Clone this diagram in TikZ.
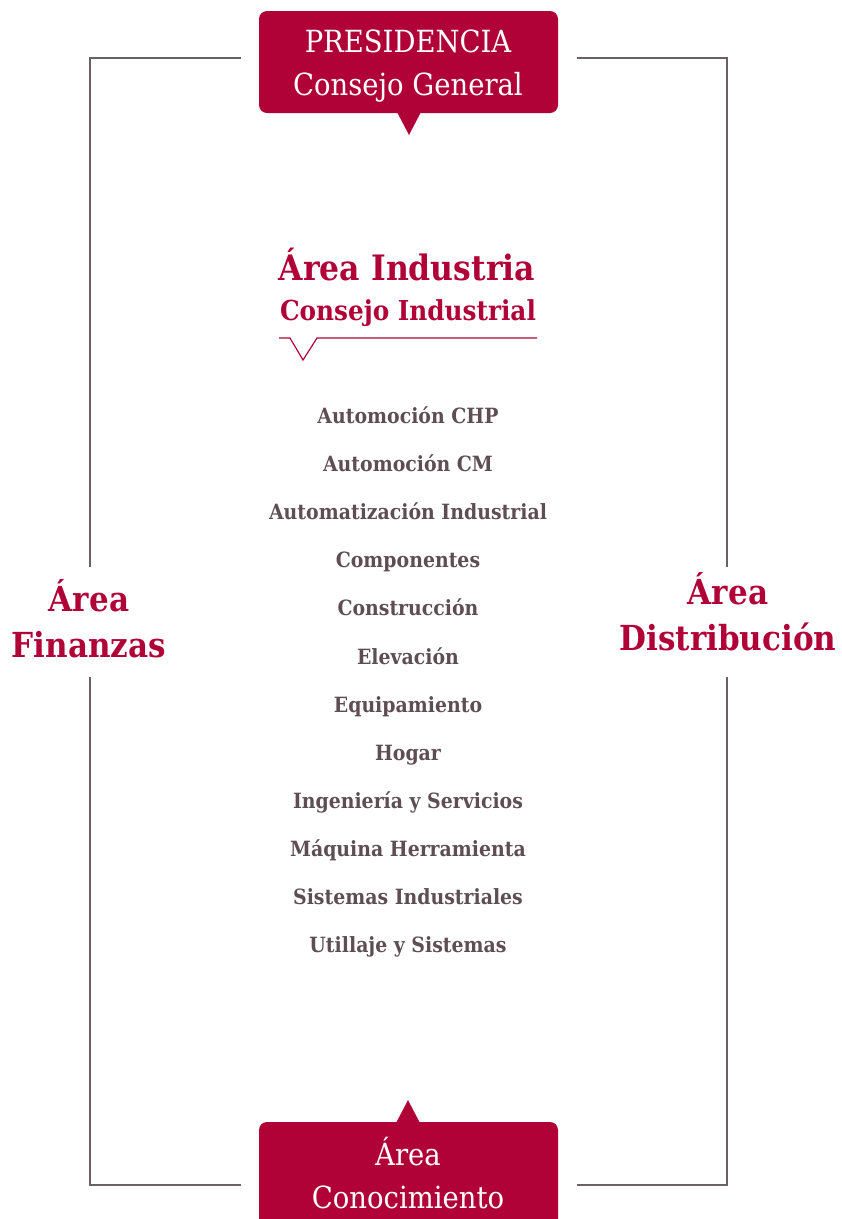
\documentclass[tikz,border=0pt]{standalone}
\usepackage{fontspec}
\setmainfont{DejaVu Serif Condensed}
\definecolor{crimson}{RGB}{176,2,54}
\definecolor{greytext}{RGB}{94,78,84}
\definecolor{greyline}{RGB}{108,96,100}
\tikzset{
  frame/.style={draw=greyline, line width=2.6pt},
  redbox/.style={fill=crimson, rounded corners=8pt},
  boxtext/.style={text=white, font=\fontsize{30.5}{43}\selectfont, align=center, inner sep=0pt, anchor=base},
  sidelabel/.style={text=crimson, font=\bfseries\fontsize{34.5}{46}\selectfont, align=center, inner sep=0pt, anchor=base},
  item/.style={text=greytext, font=\bfseries\fontsize{21}{24}\selectfont, inner sep=0pt, anchor=base},
}
\begin{document}
\begin{tikzpicture}[x=1pt,y=-1pt]
\useasboundingbox (0,0) rectangle (842,1219);
% top box
\fill[redbox] (259,11) rectangle (558,113);
\fill[crimson] (397,112) -- (421,112) -- (409,135) -- cycle;
\node[boxtext] (pres) at (408,95) {PRESIDENCIA\\Consejo General};
% bottom box
\fill[redbox] (259,1122) rectangle (558,1240);
\fill[crimson] (396,1123) -- (420,1123) -- (408,1100) -- cycle;
\node[boxtext] (cono) at (408,1208) {Área\\Conocimiento};
% side labels
\node[sidelabel] (fin) at (89,657) {Área\\Finanzas};
\node[sidelabel] (dist) at (728,650) {Área\\Distribución};
% frame coordinates
\coordinate (tl) at (90,58);
\coordinate (tr) at (727,58);
\coordinate (bl) at (90,1185);
\coordinate (br) at (727,1185);
\coordinate (tla) at (241,58);
\coordinate (tra) at (577,58);
\coordinate (bla) at (241,1185);
\coordinate (bra) at (577,1185);
\coordinate (lu) at (90,567);
\coordinate (ld) at (90,677);
\coordinate (ru) at (727,567);
\coordinate (rd) at (727,677);
\draw[frame] (tla) -- (tl) -- (lu);
\draw[frame] (ld) -- (bl) -- (bla);
\draw[frame] (tra) -- (tr) -- (ru);
\draw[frame] (rd) -- (br) -- (bra);
% industria title
\node[text=crimson, font=\bfseries\fontsize{35}{40}\selectfont, inner sep=0pt, anchor=base] (ind) at (407,280) {Área Industria};
\node[text=crimson, font=\bfseries\fontsize{27.5}{30}\selectfont, inner sep=0pt, anchor=base] (cons) at (408,320) {Consejo Industrial};
\draw[crimson, line width=1.2pt] (279,338) -- (290,338) -- (303,360) -- (317,338) -- (537,338);
% items
\node[item] (i1) at (408,423) {Automoción CHP};
\node[item] (i2) at (408,471) {Automoción CM};
\node[item] (i3) at (408,519) {Automatización Industrial};
\node[item] (i4) at (408,567) {Componentes};
\node[item] (i5) at (408,615) {Construcción};
\node[item] (i6) at (408,664) {Elevación};
\node[item] (i7) at (408,712) {Equipamiento};
\node[item] (i8) at (408,760) {Hogar};
\node[item] (i9) at (408,808) {Ingeniería y Servicios};
\node[item] (i10) at (408,856) {Máquina Herramienta};
\node[item] (i11) at (408,904) {Sistemas Industriales};
\node[item] (i12) at (408,952) {Utillaje y Sistemas};
\end{tikzpicture}
\end{document}
